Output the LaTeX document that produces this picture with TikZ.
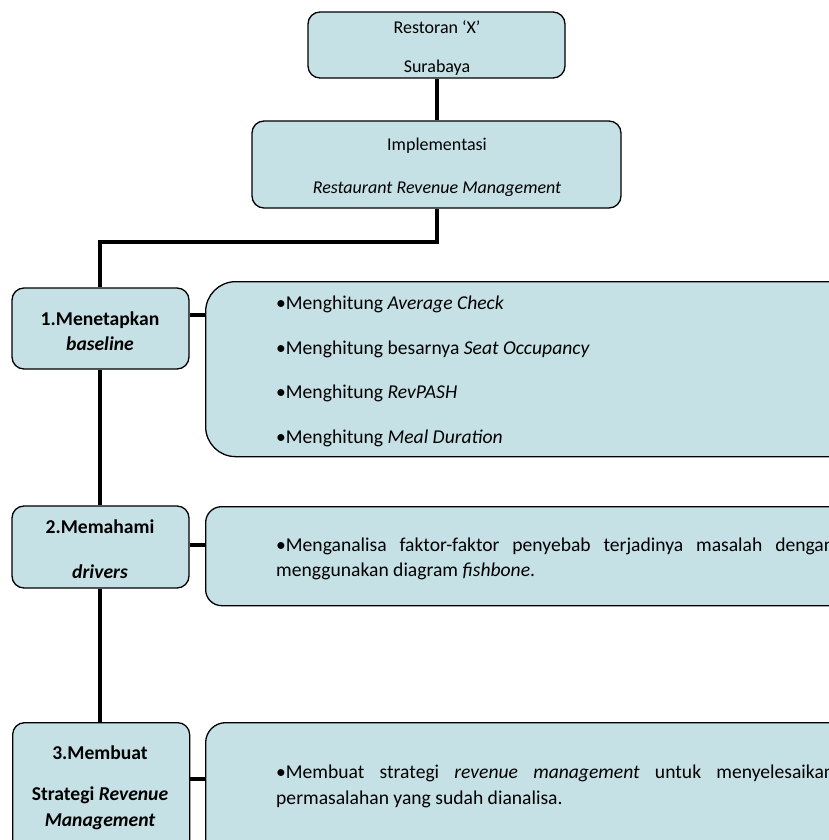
\documentclass[tikz,border=0pt]{standalone}
\usepackage{fontspec}
\setmainfont{Carlito}
\definecolor{boxfill}{RGB}{197,225,230}
\tikzset{
  box/.style={draw=black, line width=1.3pt, fill=boxfill, rounded corners=12pt, inner sep=0pt},
  conn/.style={line width=4pt, black},
  txt/.style={inner sep=0pt, font=\fontsize{18}{21}\selectfont},
  ltxt/.style={inner sep=0pt, anchor=west, font=\fontsize{19.6}{23}\selectfont},
  btxt/.style={inner sep=0pt, font=\fontsize{19.6}{23}\selectfont\bfseries},
}
\begin{document}
\begin{tikzpicture}[x=1pt,y=-1pt]
\useasboundingbox (0,0) rectangle (829,840);
\clip (0,0) rectangle (829,840);
% boxes
\node[box, minimum width=257pt, minimum height=66pt] (top) at (436.5,45) {};
\node[box, minimum width=369pt, minimum height=87pt] (impl) at (436.5,164.5) {};
\node[box, minimum width=177pt, minimum height=81pt] (b1) at (100.5,328.5) {};
\node[box, rounded corners=30pt, minimum width=660pt, minimum height=175pt, anchor=north west] (r1) at (205,281) {};
\node[box, minimum width=177pt, minimum height=82pt] (b2) at (100.5,547) {};
\node[box, rounded corners=16pt, minimum width=660pt, minimum height=99pt, anchor=north west] (r2) at (205,506) {};
\node[box, minimum width=177pt, minimum height=160pt, anchor=north west] (b3) at (12,722) {};
\node[box, rounded corners=20pt, minimum width=660pt, minimum height=160pt, anchor=north west] (r3) at (205,722) {};
% connectors
\coordinate (e1) at (437,242);
\coordinate (e2) at (100,242);
\draw[conn] (top.south -| 437,0) -- (impl.north -| 437,0);
\draw[conn] (impl.south -| e1) -- (e1) -- (e2) -- (b1.north -| e2);
\draw[conn] (b1.south -| e2) -- (b2.north -| e2);
\draw[conn] (b2.south -| e2) -- (b3.north -| e2);
\draw[conn] (b1.east |- 0,315) -- (r1.west |- 0,315);
\draw[conn] (b2.east |- 0,545) -- (r2.west |- 0,545);
\draw[conn] (b3.east |- 0,779) -- (r3.west |- 0,779);
% texts
\node[txt] (t1) at (437,27) {Restoran ‘X’};
\node[txt] (t2) at (437,68) {Surabaya};
\node[txt] (t3) at (437,146) {Implementasi};
\node[txt] (t4) at (437,189) {\itshape Restaurant Revenue Management};
\node[btxt] (t5) at (100,320) {1.Menetapkan};
\node[btxt] (t6) at (100,344) {\itshape baseline};
\node[ltxt] (t7) at (276,304) {•Menghitung \textit{Average Check}};
\node[ltxt] (t8) at (276,349) {•Menghitung besarnya \textit{Seat Occupancy}};
\node[ltxt] (t9) at (276,393) {•Menghitung \textit{RevPASH}};
\node[ltxt] (t10) at (276,438) {•Menghitung \textit{Meal Duration}};
\node[btxt] (t11) at (100,527) {2.Memahami};
\node[btxt] (t12) at (100,572) {\itshape drivers};
\node[ltxt] (t13) at (276,546) {\makebox[558pt][s]{•Menganalisa faktor-faktor penyebab terjadinya masalah dengan}};
\node[ltxt] (t14) at (276,571) {menggunakan diagram \textit{fishbone}.};
\node[btxt] (t15) at (100,753) {3.Membuat};
\node[btxt] (t16) at (100,795) {Strategi \textit{Revenue}};
\node[btxt] (t17) at (100,822) {\itshape Management};
\node[ltxt] (t18) at (276,773) {\makebox[558pt][s]{•Membuat strategi \textit{revenue management} untuk menyelesaikan}};
\node[ltxt] (t19) at (276,799) {permasalahan yang sudah dianalisa.};
\end{tikzpicture}
\end{document}
